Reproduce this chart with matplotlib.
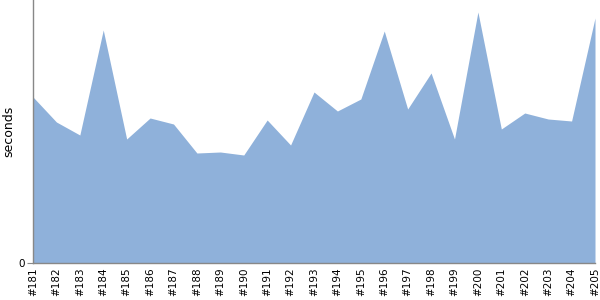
import matplotlib
matplotlib.use("Agg")
import matplotlib.pyplot as plt
import numpy as np

builds = ["#%d" % n for n in range(181, 206)]
seconds = [166, 141, 128, 233, 124, 145, 139, 110, 111, 108, 143, 118, 171,
           152, 164, 232, 154, 190, 124, 251, 134, 150, 144, 142, 245]

fig = plt.figure(figsize=(6, 3), dpi=100)
ax = fig.add_axes([33/600, 37/300, 562/600, 263/300])
x = np.arange(len(builds))
ax.fill_between(x, 0, seconds, color="#8fb1da", linewidth=0)
ax.set_xlim(0, len(builds) - 1)
ax.set_ylim(0, 263)
ax.set_xticks(x)
ax.set_xticklabels(builds, rotation=90, fontsize=7.5)
ax.set_yticks([0])
ax.set_yticklabels(["0"], fontsize=7.5)
ax.tick_params(axis="x", length=0, pad=3)
ax.tick_params(axis="y", length=4, color="#888888", pad=2)
for s in ["top", "right"]:
    ax.spines[s].set_visible(False)
for s in ["left", "bottom"]:
    ax.spines[s].set_color("#888888")
    ax.spines[s].set_linewidth(1)
ax.set_ylabel("seconds", fontsize=9)
ax.yaxis.set_label_coords(-0.031, 0.5)
fig.savefig("out.png", dpi=100)
